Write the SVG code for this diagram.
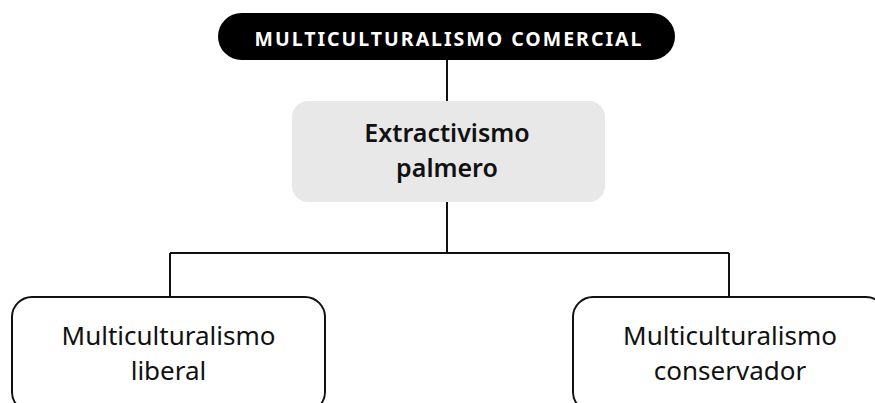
<svg xmlns="http://www.w3.org/2000/svg" width="875" height="403" viewBox="0 0 875 403">
<style>
.t{font-family:"Noto Sans","Open Sans",sans-serif;text-anchor:middle}
.h{font-size:19.5px;font-weight:700;fill:#fff;letter-spacing:2px}
.g{font-size:25px;font-weight:600;fill:#111}
.n{font-size:26px;font-weight:400;fill:#111}
.c{fill:none;stroke:#111;stroke-width:2}
</style>
<rect width="875" height="403" fill="#fff"/>
<g id="connectors" class="c">
<path d="M447 60V101"/>
<path d="M447 202V253M170 253H729M170 253V297M729 253V297"/>
</g>
<g id="n-top">
<rect x="218" y="13" width="457" height="47" rx="23.5" fill="#000"/>
<text class="t h" x="449" y="46">MULTICULTURALISMO COMERCIAL</text>
</g>
<g id="n-mid">
<rect x="292" y="101" width="313" height="101" rx="16" fill="#e8e8e8"/>
<text class="t g" x="447" y="142">Extractivismo</text>
<text class="t g" x="447" y="177">palmero</text>
</g>
<g id="n-left">
<rect x="12" y="297" width="313" height="115" rx="20" fill="#fff" stroke="#111" stroke-width="2"/>
<text class="t n" x="168.5" y="345">Multiculturalismo</text>
<text class="t n" x="168.5" y="380">liberal</text>
</g>
<g id="n-right">
<rect x="573" y="297" width="313" height="115" rx="20" fill="#fff" stroke="#111" stroke-width="2"/>
<text class="t n" x="730" y="345">Multiculturalismo</text>
<text class="t n" x="730" y="380">conservador</text>
</g>
</svg>
